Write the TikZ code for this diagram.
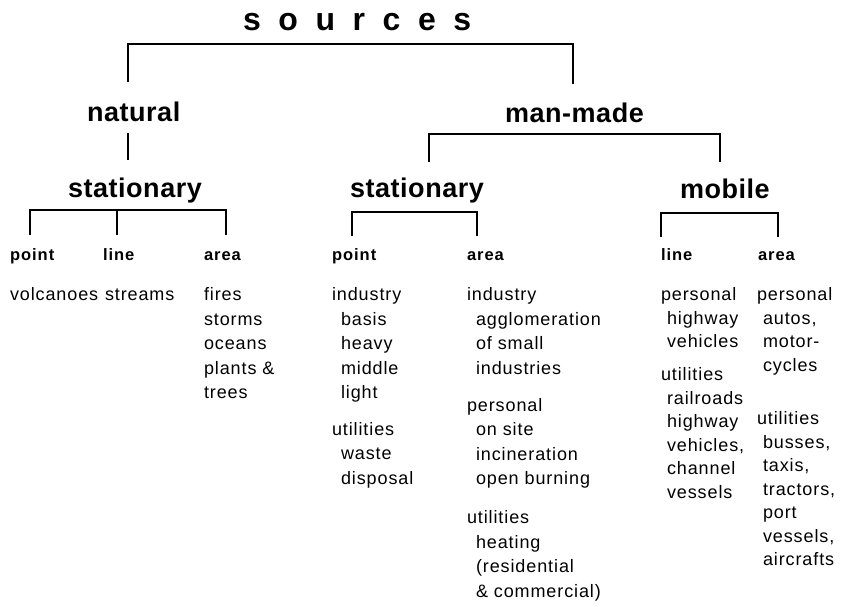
\documentclass[tikz,border=0pt]{standalone}
\usepackage{fontspec}
\setmainfont{Liberation Sans}
\newfontfamily\bodyfont{Liberation Sans}[LetterSpace=5]
\newfontfamily\headfont{Liberation Sans}[LetterSpace=2]
\newfontfamily\tagfont{Liberation Sans}[LetterSpace=6]
\newfontfamily\titlefont{Liberation Sans}[LetterSpace=55]
\begin{document}
\begin{tikzpicture}[x=1pt,y=-1pt,
  every node/.style={inner sep=0pt, outer sep=0pt, anchor=base west},
  title/.style={font=\titlefont\bfseries\fontsize{32}{32}\selectfont},
  head/.style={font=\headfont\bfseries\fontsize{27}{27}\selectfont},
  tag/.style={font=\tagfont\bfseries\fontsize{16.5}{16.5}\selectfont},
  body/.style={font=\bodyfont\fontsize{18}{18}\selectfont},
  link/.style={line width=1.1pt, line cap=butt}]

\fill[white] (0,0) rectangle (847,607);
\useasboundingbox (0,0) rectangle (847,607);

% ---- headings ----
\node[title] (src) at (243,31) {sources};
\node[head] (nat) at (87,122) {natural};
\node[head] (mm)  at (505,123) {man-made};
\node[head] (nst) at (68,198) {stationary};
\node[head] (mst) at (350,198) {stationary};
\node[head] (mob) at (680,199) {mobile};

% ---- category tags ----
\node[tag] (npt) at (10,261)  {point};
\node[tag] (nln) at (103,261) {line};
\node[tag] (nar) at (204,261) {area};
\node[tag] (spt) at (332,261) {point};
\node[tag] (sar) at (467,261) {area};
\node[tag] (mln) at (661,261) {line};
\node[tag] (mar) at (758,261) {area};

% ---- bracket feet ----
\coordinate (srcL) at (128,82);
\coordinate (srcR) at (573,84);
\coordinate (natA) at (128,133);
\coordinate (natB) at (128,160);
\coordinate (mmL)  at (429,162);
\coordinate (mmR)  at (720,162);
\coordinate (nsA)  at (30,235);
\coordinate (nsB)  at (117,235);
\coordinate (nsC)  at (226,235);
\coordinate (msA)  at (352,236);
\coordinate (msB)  at (477,236);
\coordinate (moA)  at (661,237);
\coordinate (moB)  at (778,237);

% ---- brackets ----
\draw[link] (srcL) -- ++(0,-38) -| (srcR);
\draw[link] (natA) -- (natB);
\draw[link] (mmL) -- ++(0,-28) -| (mmR);
\draw[link] (nsA) -- ++(0,-25) -| (nsC);
\draw[link] (nsB) -- ++(0,-25);
\draw[link] (msA) -- ++(0,-24) -| (msB);
\draw[link] (moA) -- ++(0,-24) -| (moB);

% ---- natural / stationary ----
\node[body] (v1) at (10,300.5)  {volcanoes};
\node[body] (s1) at (105,300.5) {streams};
\foreach \t/\y [count=\i] in {fires/300.5, storms/325, oceans/349.5, {plants \&}/374, trees/398.5}
  \node[body] (na\i) at (204,\y) {\t};

% ---- man-made / stationary / point ----
\foreach \t/\dx/\y [count=\i] in {industry/0/300.5, basis/9/325, heavy/9/349.5,
    middle/9/374, light/9/398.5, utilities/0/435, waste/9/459.5, disposal/9/484}
  \node[body] (sp\i) at (332+\dx,\y) {\t};

% ---- man-made / stationary / area ----
\foreach \t/\dx/\y [count=\i] in {industry/0/300.5, agglomeration/9/325,
    {of small}/9/349.5, industries/9/374, personal/0/411, {on site}/9/435.5,
    incineration/9/460, {open burning}/9/484.5, utilities/0/523.5, heating/9/548,
    {{(residential}}/9/572.5, {{\& commercial)}}/9/597}
  \node[body] (sa\i) at (467+\dx,\y) {\t};

% ---- man-made / mobile / line ----
\foreach \t/\dx/\y [count=\i] in {personal/0/300.5, highway/6/324, vehicles/6/347.5,
    utilities/0/380, railroads/6/404, highway/6/427.5, {vehicles,}/6/451,
    channel/6/474.5, vessels/6/498}
  \node[body] (ml\i) at (661+\dx,\y) {\t};

% ---- man-made / mobile / area ----
\foreach \t/\dx/\y [count=\i] in {personal/0/300.5, {autos,}/6/324, motor-/6/347.5,
    cycles/6/371, utilities/0/424.5, {busses,}/6/448, {taxis,}/6/471.5,
    {tractors,}/6/495, port/6/518.5, {vessels,}/6/542, aircrafts/6/565.5}
  \node[body] (ma\i) at (757+\dx,\y) {\t};
\end{tikzpicture}
\end{document}
